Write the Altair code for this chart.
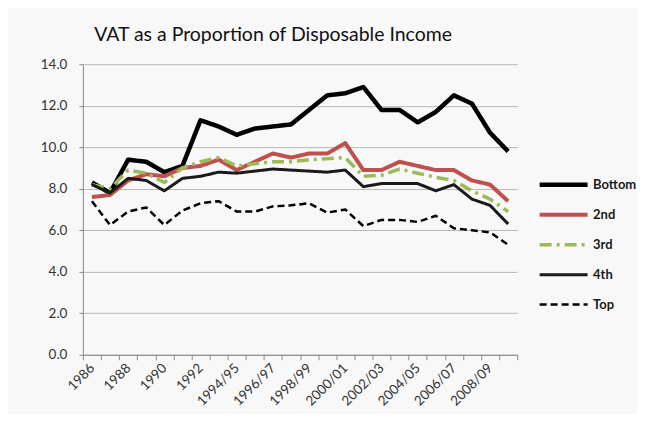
import altair as alt
import pandas as pd

years = ["1986", "1987", "1988", "1989", "1990", "1991", "1992", "1993",
         "1994/95", "1995/96", "1996/97", "1997/98", "1998/99", "1999/00",
         "2000/01", "2001/02", "2002/03", "2003/04", "2004/05", "2005/06",
         "2006/07", "2007/08", "2008/09", "2009/10"]
shown_labels = years[0:8:2] + years[8::2]

bottom = [8.3, 7.8, 9.4, 9.3, 8.8, 9.1, 11.3, 11.0, 10.6, 10.9, 11.0, 11.1,
          11.8, 12.5, 12.6, 12.9, 11.8, 11.8, 11.2, 11.7, 12.5, 12.1, 10.7, 9.8]
second = [7.6, 7.7, 8.4, 8.7, 8.6, 9.0, 9.1, 9.4, 8.9, 9.3, 9.7, 9.5,
          9.7, 9.7, 10.2, 8.9, 8.9, 9.3, 9.1, 8.9, 8.9, 8.4, 8.2, 7.4]
third = [8.2, 8.0, 8.9, 8.75, 8.3, 9.0, 9.3, 9.5, 9.1, 9.2, 9.3, 9.3,
         9.4, 9.45, 9.5, 8.6, 8.65, 8.95, 8.75, 8.55, 8.4, 7.9, 7.5, 6.9]
fourth = [8.2, 7.8, 8.5, 8.4, 7.9, 8.5, 8.6, 8.8, 8.75, 8.85, 8.95, 8.9,
          8.85, 8.8, 8.9, 8.1, 8.25, 8.25, 8.25, 7.9, 8.2, 7.5, 7.2, 6.3]
top = [7.4, 6.25, 6.9, 7.1, 6.25, 6.95, 7.3, 7.4, 6.9, 6.9, 7.15, 7.2,
       7.3, 6.85, 7.0, 6.2, 6.5, 6.5, 6.4, 6.7, 6.1, 6.0, 5.9, 5.3]

series_names = ["Bottom", "2nd", "3rd", "4th", "Top"]
series_values = [bottom, second, third, fourth, top]
series_colors = ["#000000", "#c0504d", "#9bbb59", "#1a1a1a", "#000000"]
series_dashes = [[1, 0], [1, 0], [12, 5, 3, 5], [1, 0], [7, 4]]
series_widths = [4.5, 2.5, 3, 2, 3]

rows = []
for name, vals in zip(series_names, series_values):
    for y, v in zip(years, vals):
        rows.append({"year": y, "value": v, "series": name})
df = pd.DataFrame(rows)

font = "Lato"
label_list = ",".join("'" + s + "'" for s in shown_labels)

leg = dict(title=None, orient="none", legendX=455, legendY=106, padding=0)

chart = alt.Chart(df).mark_line(strokeJoin="round").encode(
    x=alt.X("year:O", sort=years, bandPosition=0.5,
            scale=alt.Scale(type="band", paddingInner=0, paddingOuter=0),
            axis=alt.Axis(title=None, labelAngle=-45, labelAlign="right",
                          labelBaseline="middle", tickBand="extent",
                          labelExpr="indexof([" + label_list + "], datum.label) >= 0 ? datum.label : ''",
                          labelFontSize=13.5, labelColor="#333333", labelPadding=6,
                          tickSize=5, tickColor="#888888", domainColor="#888888",
                          labelFont=font, grid=False)),
    y=alt.Y("value:Q", scale=alt.Scale(domain=[0, 14]),
            axis=alt.Axis(title=None, values=[0, 2, 4, 6, 8, 10, 12, 14], format=".1f",
                          labelFontSize=13.5, labelColor="#333333", labelPadding=12,
                          tickSize=4, tickColor="#888888", domainColor="#888888",
                          gridColor="#b8b8b8", gridWidth=1, labelFont=font)),
    color=alt.Color("series:N", sort=series_names,
                    scale=alt.Scale(domain=series_names, range=series_colors),
                    legend=alt.Legend(symbolType="stroke", symbolSize=2304,
                                      clipHeight=29.5, rowPadding=0,
                                      labelFont=font, labelFontSize=13, labelFontWeight="bold",
                                      labelColor="#1a1a1a", labelOffset=3,
                                      **leg)),
    strokeDash=alt.StrokeDash("series:N", sort=series_names,
                              scale=alt.Scale(domain=series_names, range=series_dashes),
                              legend=alt.Legend(**leg)),
    strokeWidth=alt.StrokeWidth("series:N", sort=series_names,
                                scale=alt.Scale(domain=series_names, range=series_widths),
                                legend=alt.Legend(**leg)),
    detail="series:N",
).properties(
    width=435, height=291,
    title=alt.TitleParams("VAT as a Proportion of Disposable Income", font=font,
                          fontSize=19.5, fontWeight="normal", color="#111111",
                          dx=-27, offset=12),
    background="#f8f8f8",
    padding={"left": 32, "top": 16, "right": 0, "bottom": 5},
).configure_view(stroke=None)

chart.save("out.html", embed_options={"renderer": "svg", "actions": False})
